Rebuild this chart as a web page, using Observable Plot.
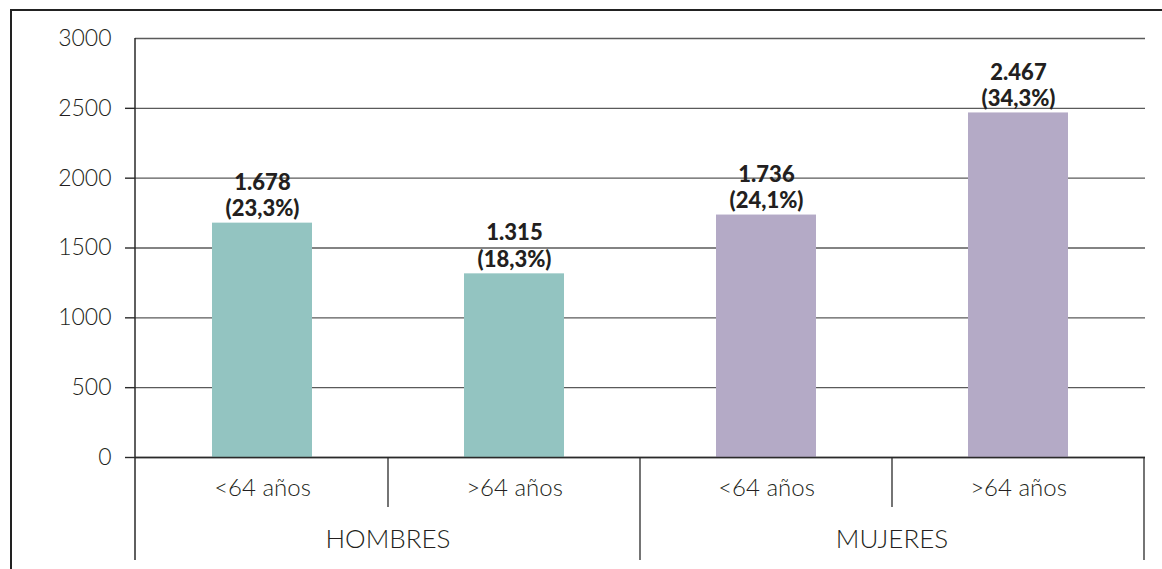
<!DOCTYPE html>
<html>
<head>
<meta charset="utf-8">
<script src="https://cdn.jsdelivr.net/npm/d3@7"></script>
<script src="https://cdn.jsdelivr.net/npm/@observablehq/plot@0.6"></script>
<style>
  html, body { margin: 0; padding: 0; background: #fff; }
  #wrap { position: relative; width: 1162px; height: 569px; overflow: hidden; }
  #border { position: absolute; left: 10px; top: 9px; right: -10px; bottom: -10px;
            border-left: 2px solid #222; border-top: 2px solid #222; pointer-events: none; }
</style>
</head>
<body>
<div id="wrap"><div id="border"></div></div>
<script>
const groups = ["HOMBRES", "HOMBRES", "MUJERES", "MUJERES"];
const ages = ["<64 años", ">64 años", "<64 años", ">64 años"];
const values = [1678, 1315, 1736, 2467];
const valueLabels = ["1.678", "1.315", "1.736", "2.467"];
const pctLabels = ["(23,3%)", "(18,3%)", "(24,1%)", "(34,3%)"];
const colors = ["#93c4c1", "#93c4c1", "#b4aac6", "#b4aac6"];
const yTicks = [0, 500, 1000, 1500, 2000, 2500, 3000];

const data = values.map((v, i) => ({
  key: groups[i] + " " + ages[i],
  group: groups[i], age: ages[i], value: v,
  label: valueLabels[i] + "\n" + pctLabels[i], color: colors[i]
}));
const keys = data.map(d => d.key);
const groupNames = [...new Set(groups)];

const font = "Lato, 'Open Sans', sans-serif";
const ink = "#231f20";

function categoryAxis(index, scales, values, dims) {
  const x = scales.x;
  const bw = (typeof x.bandwidth === "function") ? x.bandwidth()
    : (dims.width - dims.marginLeft - dims.marginRight) / keys.length;
  const y0 = dims.height - dims.marginBottom;
  const yBottom = dims.height - 9;
  const yShort = y0 + 50;
  const g = d3.create("svg:g");
  g.append("line").attr("x1", dims.marginLeft).attr("x2", dims.marginLeft)
    .attr("y1", dims.marginTop).attr("y2", yBottom)
    .attr("stroke", "#2a2a2a").attr("stroke-width", 1.5);
  keys.forEach((k, i) => {
    const left = x(k);
    const isGroupStart = i === 0 || groups[i] !== groups[i - 1];
    if (i > 0) {
      g.append("line").attr("x1", left).attr("x2", left)
        .attr("y1", y0).attr("y2", isGroupStart ? yBottom : yShort)
        .attr("stroke", "#2a2a2a").attr("stroke-width", 1.3);
    }
  });
  const lastRight = x(keys[keys.length - 1]) + bw;
  g.append("line").attr("x1", lastRight).attr("x2", lastRight)
    .attr("y1", y0).attr("y2", yBottom)
    .attr("stroke", "#2a2a2a").attr("stroke-width", 1.3);
  groupNames.forEach(gn => {
    const ks = keys.filter((k, i) => groups[i] === gn);
    const cx = (x(ks[0]) + x(ks[ks.length - 1]) + bw) / 2;
    g.append("text").attr("x", cx).attr("y", y0 + 85)
      .attr("text-anchor", "middle").attr("dominant-baseline", "middle")
      .attr("font-family", font).attr("font-size", 26).attr("font-weight", 300)
      .attr("fill", ink).text(gn);
  });
  return g.node();
}

const chart = Plot.plot({
  width: 1162,
  height: 569,
  marginLeft: 135,
  marginRight: 17,
  marginTop: 38,
  marginBottom: 112,
  style: { fontFamily: font, background: "transparent", overflow: "visible" },
  x: { type: "band", domain: keys, padding: 0, axis: null },
  y: { domain: [0, 3000], axis: null },
  marks: [
    Plot.ruleY(yTicks, { stroke: "#5a5a5a", strokeWidth: 1.4 }),
    Plot.barY(data, { x: "key", y: "value", fill: "color", insetLeft: 76, insetRight: 76 }),
    Plot.ruleY([0], { stroke: "#2a2a2a", strokeWidth: 1.5 }),
    Plot.axisY({ ticks: yTicks.filter(t => t < 3000), tickSize: 10, tickPadding: 14,
      tickFormat: d => String(d), label: null,
      fontSize: 23, fontWeight: 300, stroke: "#2a2a2a", strokeWidth: 1.4, fill: ink }),
    Plot.axisY({ ticks: [3000], tickSize: 0, tickPadding: 24, tickFormat: d => String(d),
      label: null, fontSize: 23, fontWeight: 300, fill: ink }),
    Plot.text(data, { x: "key", y: "value", text: "label", lineAnchor: "bottom", dy: -7,
      fontSize: 22, fontWeight: 900, fill: ink, lineHeight: 1.2 }),
    Plot.text(data, { x: "key", y: 0, text: "age", dy: 31, lineAnchor: "middle",
      fontSize: 24, fontWeight: 300, fill: ink }),
    categoryAxis
  ]
});
chart.style.position = "absolute";
chart.style.left = "0";
chart.style.top = "0";
document.getElementById("wrap").appendChild(chart);
</script>
</body>
</html>
